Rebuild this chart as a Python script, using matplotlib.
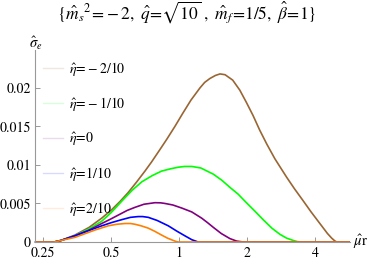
import matplotlib
matplotlib.use('Agg')
import matplotlib.pyplot as plt
from matplotlib.lines import Line2D
from matplotlib.ticker import FixedLocator, FixedFormatter, NullLocator

plt.rcParams['font.family'] = ['STIXGeneral', 'DejaVu Serif']
plt.rcParams['mathtext.fontset'] = 'stix'

# data (mu*r, sigma_e)
mu_m2 = [0.23, 0.28, 0.30, 0.346, 0.40, 0.455, 0.504, 0.55, 0.595, 0.65, 0.707, 0.757, 0.824, 0.882,
         0.96, 1.04, 1.13, 1.24, 1.30, 1.37, 1.45, 1.52, 1.60, 1.73, 1.86, 1.99, 2.13, 2.28, 2.45,
         2.66, 3.0, 3.25, 3.54, 3.85, 4.21, 4.55, 4.75, 4.9, 5.0, 5.72]
sig_m2 = [0, 0, 0.0002, 0.0009, 0.0019, 0.0031, 0.0042, 0.0053, 0.0064, 0.0078, 0.0092, 0.0104, 0.0120, 0.0133,
          0.0150, 0.0167, 0.0184, 0.0200, 0.0207, 0.0212, 0.0216, 0.0218, 0.0217, 0.0210, 0.0197, 0.0181, 0.0164,
          0.0145, 0.0127, 0.0108, 0.0084, 0.0069, 0.0054, 0.0039, 0.0024, 0.0011, 0.0005, 0.00015, 0, 0]

mu_m1 = [0.23, 0.28, 0.30, 0.346, 0.40, 0.455, 0.50, 0.558, 0.62, 0.684, 0.76, 0.838, 0.92, 0.993,
         1.06, 1.14, 1.25, 1.42, 1.55, 1.68, 1.83, 1.99, 2.17, 2.36, 2.58, 2.80, 3.0, 3.21, 3.35, 3.49, 5.72]
sig_m1 = [0, 0, 0.0002, 0.0008, 0.0017, 0.0027, 0.0038, 0.0053, 0.0067, 0.0078, 0.0086, 0.0092, 0.0095, 0.0097,
          0.0098, 0.0098, 0.0096, 0.0088, 0.0080, 0.0071, 0.0062, 0.0051, 0.0040, 0.0029, 0.0018, 0.0010, 0.0005,
          0.0002, 0.00005, 0, 0]

mu_0 = [0.23, 0.28, 0.30, 0.346, 0.397, 0.455, 0.50, 0.539, 0.59, 0.639, 0.70, 0.783, 0.83, 0.867, 0.94,
        1.03, 1.14, 1.26, 1.34, 1.42, 1.54, 1.68, 1.80, 1.93, 5.72]
sig_0 = [0, 0, 0.0002, 0.0008, 0.0015, 0.0024, 0.0030, 0.0035, 0.0041, 0.0045, 0.0049, 0.0051, 0.00508, 0.0050,
         0.0048, 0.0044, 0.0039, 0.0031, 0.0025, 0.0019, 0.0011, 0.00045, 0.00012, 0, 0]

mu_p1 = [0.23, 0.28, 0.30, 0.346, 0.40, 0.455, 0.50, 0.558, 0.61, 0.66, 0.69, 0.731, 0.80, 0.897, 0.98,
         1.063, 1.14, 1.217, 5.72]
sig_p1 = [0, 0, 0.0002, 0.0008, 0.0015, 0.0021, 0.0025, 0.0029, 0.0032, 0.0033, 0.0033, 0.0032, 0.0028, 0.0021,
          0.0014, 0.0008, 0.0003, 0, 0]

mu_p2 = [0.23, 0.28, 0.30, 0.346, 0.425, 0.486, 0.53, 0.577, 0.61, 0.639, 0.68, 0.731, 0.78, 0.838, 0.89,
         0.944, 0.97, 0.993, 5.72]
sig_p2 = [0, 0, 0.0002, 0.0006, 0.00156, 0.0021, 0.0023, 0.0024, 0.0024, 0.0023, 0.0021, 0.0018, 0.0014, 0.0009,
          0.0005, 0.0002, 0.00007, 0, 0]

labels = [r'$\hat{\eta}\!=\!-2/10$', r'$\hat{\eta}\!=\!-1/10$', r'$\hat{\eta}\!=\!0$',
          r'$\hat{\eta}\!=\!1/10$', r'$\hat{\eta}\!=\!2/10$']
colors = ['#996633', '#00ff00', '#800080', '#0000ff', '#ff8000']

xticks = [0.25, 0.5, 1, 2, 4]
xtick_labels = ['0.25', '0.5', '1', '2', '4']
yticks = [0, 0.005, 0.01, 0.015, 0.02]
ytick_labels = ['0', '0.005', '0.01', '0.015', '0.02']

fig = plt.figure(figsize=(3.74, 2.63), dpi=100)
ax = fig.add_axes([0.0936, 0.0798, 0.842, 0.730])

series = [(mu_m2, sig_m2), (mu_m1, sig_m1), (mu_0, sig_0), (mu_p1, sig_p1), (mu_p2, sig_p2)]
for (x, y), c in zip(series, colors):
    ax.plot(x, y, color=c, lw=1.2, clip_on=False, solid_capstyle='butt', solid_joinstyle='round')

ax.set_xscale('log')
ax.set_xlim(0.2303, 5.72)
ax.set_ylim(0, 0.0249)

ax.xaxis.set_major_locator(FixedLocator(xticks))
ax.xaxis.set_major_formatter(FixedFormatter(xtick_labels))
ax.xaxis.set_minor_locator(NullLocator())
ax.yaxis.set_major_locator(FixedLocator(yticks))
ax.yaxis.set_major_formatter(FixedFormatter(ytick_labels))

for s in ['top', 'right']:
    ax.spines[s].set_visible(False)
for s in ['left', 'bottom']:
    ax.spines[s].set_color('#999999')
    ax.spines[s].set_linewidth(0.8)
ax.tick_params(direction='in', length=3.5, width=0.7, color='#999999', labelsize=10, pad=3)

handles = [Line2D([], [], color=c, lw=1.0, alpha=0.15) for c in colors]
ax.legend(handles, labels, loc='upper left', bbox_to_anchor=(0.025, 0.95), frameon=False,
          fontsize=10, handlelength=1.45, handletextpad=0.4, labelspacing=1.25,
          borderpad=0, borderaxespad=0)

fig.text(0.5, 0.955, r'$\{\hat{m}_s{}^2\!=\!-2,\ \hat{q}\!=\!\sqrt{10}\ ,\ \hat{m}_f\!=\!1/5,\ \hat{\beta}\!=\!1\}$',
         ha='center', va='center', fontsize=12.5)
fig.text(0.078, 0.835, r'$\hat{\sigma}_e$', ha='left', va='center', fontsize=10.5)
fig.text(0.945, 0.079, r'$\hat{\mu}\mathrm{r}$', ha='left', va='center', fontsize=10.5)

fig.savefig('out.png', dpi=100)
